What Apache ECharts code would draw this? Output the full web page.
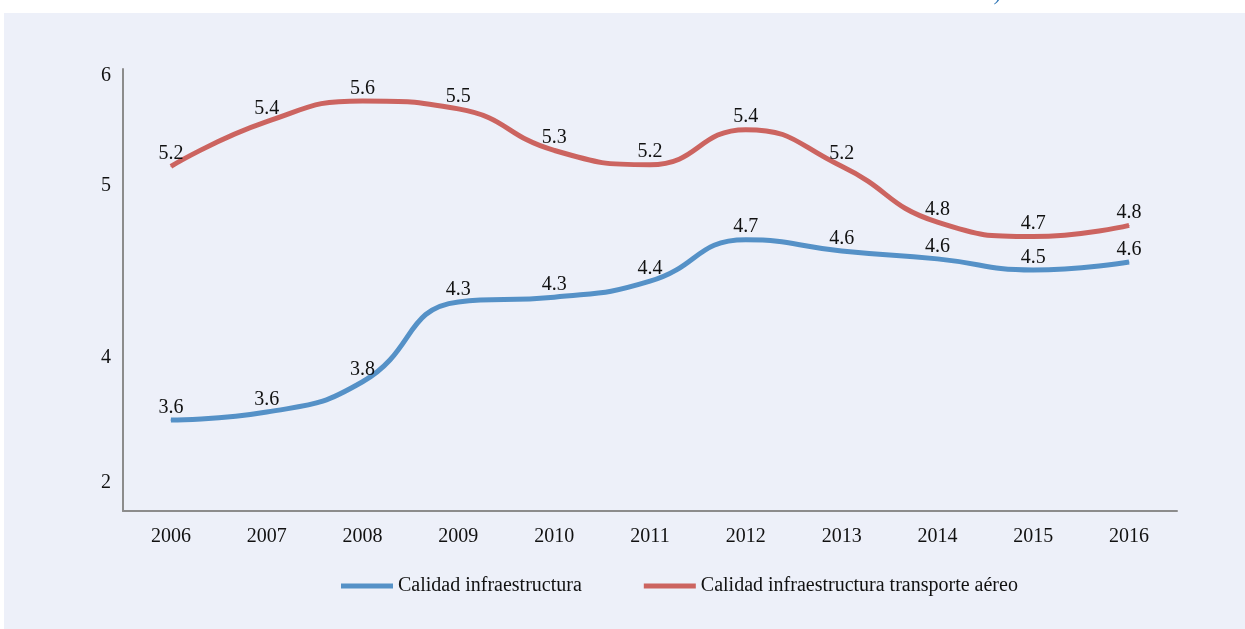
<!DOCTYPE html>
<html>
<head>
<meta charset="utf-8">
<script src="https://cdn.jsdelivr.net/npm/echarts@6/dist/echarts.min.js"></script>
<style>
  html, body { margin: 0; padding: 0; background: #ffffff; }
  #panel { position: absolute; left: 4px; top: 13px; width: 1241px; height: 616px; background: #EDF0F9; }
  #chart { position: absolute; left: 0; top: 0; width: 1245px; height: 629px; }
</style>
</head>
<body>
<div id="panel"></div>
<div id="chart"></div>
<script>
  'use strict';

  var years = ['2006', '2007', '2008', '2009', '2010', '2011', '2012', '2013', '2014', '2015', '2016'];
  var infra = [3.57, 3.62, 3.81, 4.31, 4.34, 4.44, 4.70, 4.63, 4.58, 4.51, 4.56];
  var infraAereo = [5.16, 5.44, 5.57, 5.52, 5.26, 5.17, 5.39, 5.16, 4.81, 4.72, 4.79];

  // the original axis shows these labels at uneven places
  var yTickValues = [3.175, 3.9625, 5.0375, 5.725];
  var yTickLabels = ['2', '4', '5', '6'];

  var serif = '"Liberation Serif", "DejaVu Serif", serif';
  var blue = '#5591C7';
  var red = '#CC6460';

  var chart = echarts.init(document.getElementById('chart'), null, { renderer: 'canvas' });

  function lineSeries(name, data, color) {
    return {
      name: name,
      type: 'line',
      data: data,
      smooth: 0.5,
      symbol: 'circle',
      symbolSize: 1,
      showSymbol: true,
      itemStyle: { color: color },
      lineStyle: { color: color, width: 5 },
      label: {
        show: true,
        position: 'top',
        distance: 2,
        color: '#111',
        fontFamily: serif,
        fontSize: 20,
        formatter: function (p) { return p.value.toFixed(1); }
      },
      emphasis: { disabled: true },
      animation: false
    };
  }

  chart.setOption({
    backgroundColor: 'transparent',
    textStyle: { fontFamily: serif },
    graphic: [{
      type: 'text',
      left: 995,
      top: -15,
      style: { text: ')', fill: '#2E75B6', font: 'italic 20px ' + serif }
    }],
    legend: {
      left: 336,
      top: 571,
      icon: 'rect',
      itemWidth: 52,
      itemHeight: 5,
      itemGap: 62,
      textStyle: { fontFamily: serif, fontSize: 20, color: '#111' },
      data: ['Calidad infraestructura', 'Calidad infraestructura transporte aéreo']
    },
    grid: { left: 123, right: 68, top: 69, bottom: 118, containLabel: false },
    xAxis: {
      type: 'category',
      data: years,
      boundaryGap: true,
      axisLine: { show: true, lineStyle: { color: '#8C8C8C', width: 2 } },
      axisTick: { show: false },
      axisLabel: { margin: 16, color: '#111', fontFamily: serif, fontSize: 20 },
      splitLine: { show: false }
    },
    yAxis: {
      type: 'value',
      min: 3,
      max: 5.77,
      axisLine: { show: true, lineStyle: { color: '#8C8C8C', width: 2 } },
      axisTick: { show: false },
      splitLine: { show: false },
      axisLabel: {
        customValues: yTickValues,
        margin: 12,
        color: '#111',
        fontFamily: serif,
        fontSize: 20,
        formatter: function (v) {
          var i = yTickValues.indexOf(v);
          return i >= 0 ? yTickLabels[i] : '';
        }
      }
    },
    series: [
      lineSeries('Calidad infraestructura', infra, blue),
      lineSeries('Calidad infraestructura transporte aéreo', infraAereo, red)
    ]
  });
</script>
</body>
</html>
